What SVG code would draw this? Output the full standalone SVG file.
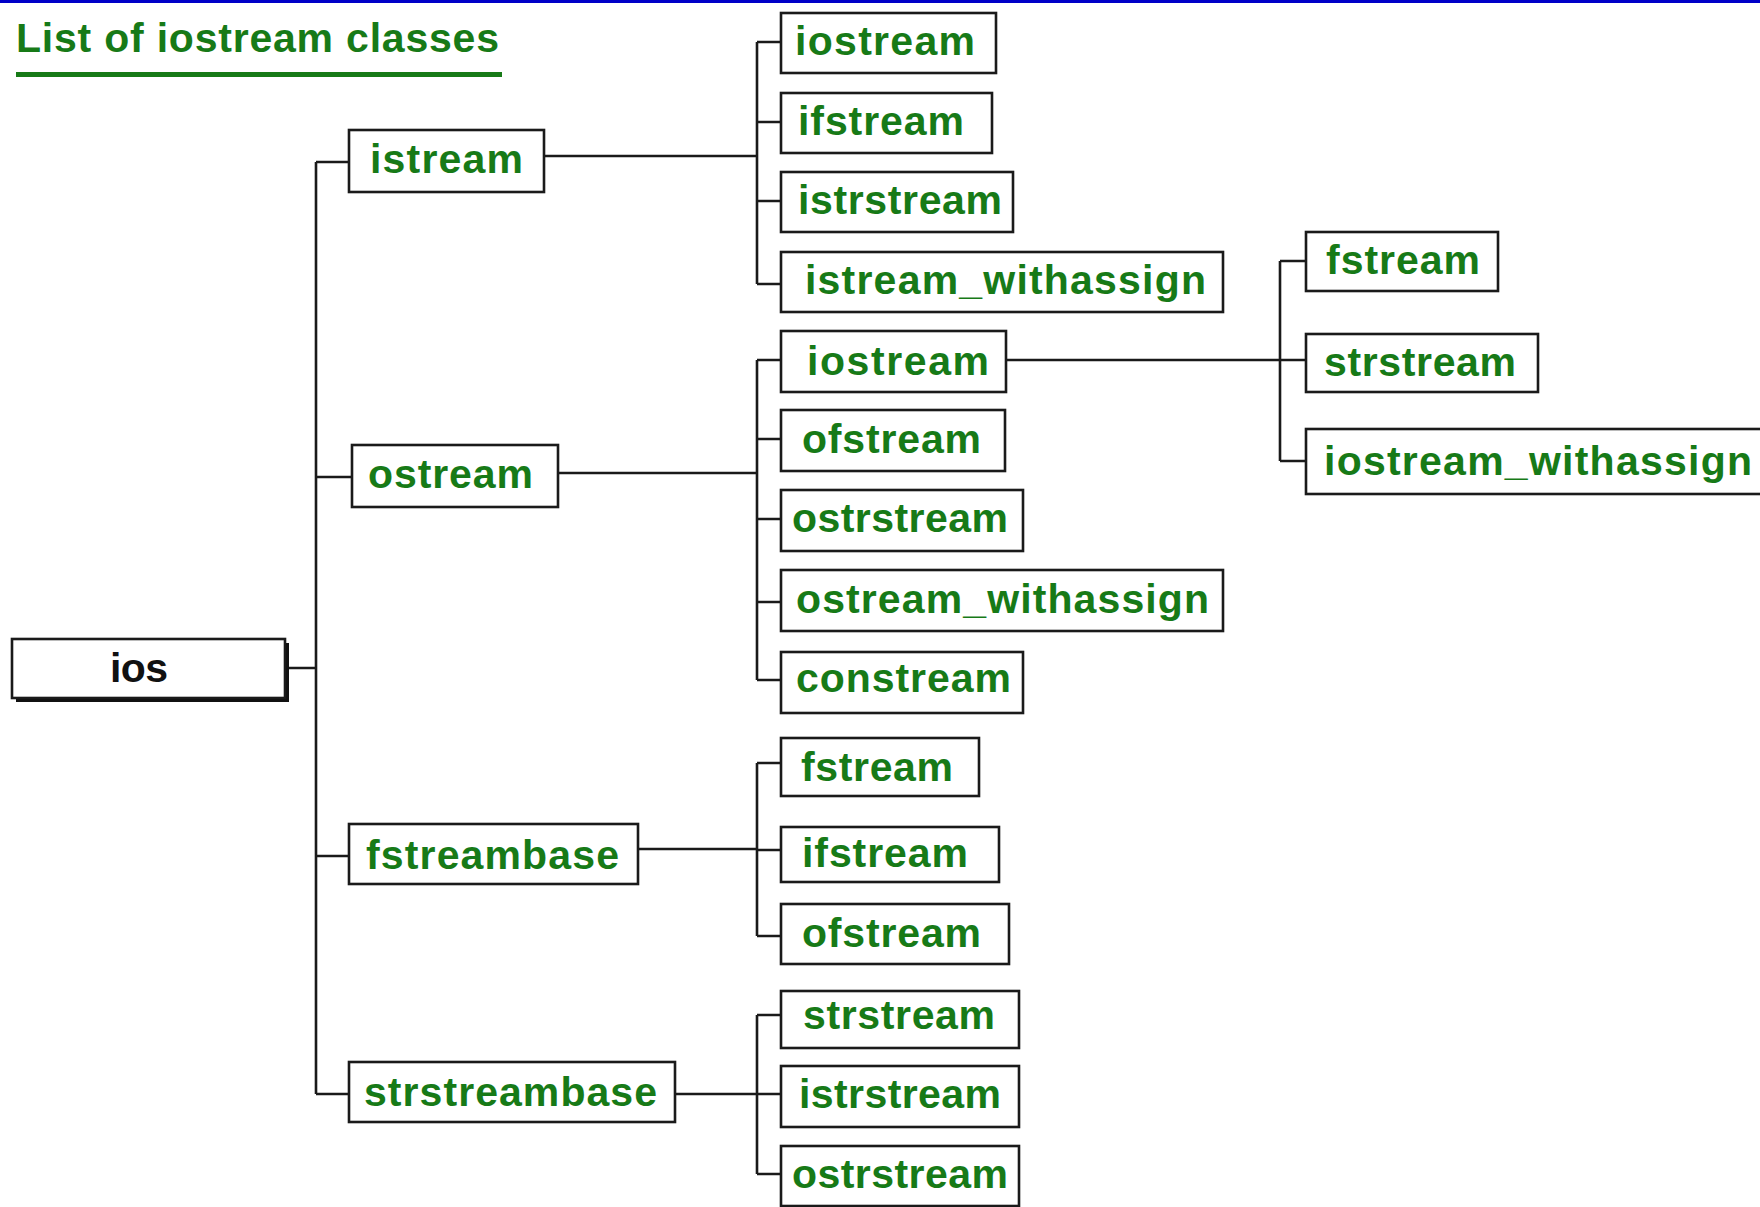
<svg xmlns="http://www.w3.org/2000/svg" width="1760" height="1207" viewBox="0 0 1760 1207">
<style>
.bx{fill:#fff;stroke:#1a1a1a;stroke-width:2.6}
.lb{font-family:"Liberation Sans",Arial,sans-serif;font-weight:bold;font-size:41px;fill:#177a17}
.ios{font-family:"Liberation Sans",Arial,sans-serif;font-weight:bold;font-size:41px;fill:#111}
.cn{fill:none;stroke:#1a1a1a;stroke-width:2.6}
</style>
<rect width="1760" height="1207" fill="#fff"/>
<rect x="0" y="0" width="1760" height="3" fill="#0000c8"/>
<g id="title">
<text x="16" y="52" class="lb" textLength="483">List of iostream classes</text>
<rect x="16" y="72" width="486" height="5" fill="#177a17"/>
</g>
<g id="connectors">
<path class="cn" d="M286 668H316M316 162V1094M316 162H349M316 477H352M316 856H349M316 1094H349"/>
<path class="cn" d="M544 156H757M757 42V284M757 42H781M757 122H781M757 201H781M757 284H781"/>
<path class="cn" d="M558 473H757M757 360V680M757 360H781M757 439H781M757 519H781M757 602H781M757 680H781"/>
<path class="cn" d="M1006 360H1280M1280 261V461M1280 261H1306M1280 360H1306M1280 461H1306"/>
<path class="cn" d="M638 849H757M757 763V936M757 763H781M757 850H781M757 936H781"/>
<path class="cn" d="M675 1094H757M757 1015V1174M757 1015H781M757 1094H781M757 1174H781"/>
</g>
<g id="ios">
<rect x="16" y="643" width="273" height="59" fill="#111"/>
<rect class="bx" x="12" y="639" width="273" height="59"/>
<text x="110" y="682" class="ios" textLength="58">ios</text>
</g>
<g id="istream"><rect class="bx" x="349" y="130" width="195" height="62"/><text x="370" y="173" class="lb" textLength="153">istream</text></g>
<g id="ostream"><rect class="bx" x="352" y="445" width="206" height="62"/><text x="368" y="488" class="lb" textLength="165">ostream</text></g>
<g id="fstreambase"><rect class="bx" x="349" y="824" width="289" height="60"/><text x="366" y="869" class="lb" textLength="253">fstreambase</text></g>
<g id="strstreambase"><rect class="bx" x="349" y="1062" width="326" height="60"/><text x="364" y="1106" class="lb" textLength="293">strstreambase</text></g>
<g id="istream-iostream"><rect class="bx" x="781" y="13" width="215" height="60"/><text x="795" y="55" class="lb" textLength="180">iostream</text></g>
<g id="istream-ifstream"><rect class="bx" x="781" y="93" width="211" height="60"/><text x="798" y="135" class="lb" textLength="166">ifstream</text></g>
<g id="istream-istrstream"><rect class="bx" x="781" y="172" width="232" height="60"/><text x="798" y="214" class="lb" textLength="204">istrstream</text></g>
<g id="istream_withassign"><rect class="bx" x="781" y="252" width="442" height="60"/><text x="805" y="294" class="lb" textLength="401">istream_withassign</text></g>
<g id="ostream-iostream"><rect class="bx" x="781" y="331" width="225" height="61"/><text x="807" y="375" class="lb" textLength="182">iostream</text></g>
<g id="ostream-ofstream"><rect class="bx" x="781" y="410" width="224" height="61"/><text x="802" y="453" class="lb" textLength="179">ofstream</text></g>
<g id="ostream-ostrstream"><rect class="bx" x="781" y="490" width="242" height="61"/><text x="792" y="532" class="lb" textLength="216">ostrstream</text></g>
<g id="ostream_withassign"><rect class="bx" x="781" y="570" width="442" height="61"/><text x="796" y="613" class="lb" textLength="413">ostream_withassign</text></g>
<g id="constream"><rect class="bx" x="781" y="652" width="242" height="61"/><text x="796" y="692" class="lb" textLength="215">constream</text></g>
<g id="iostream-fstream"><rect class="bx" x="1306" y="232" width="192" height="59"/><text x="1326" y="274" class="lb" textLength="154">fstream</text></g>
<g id="iostream-strstream"><rect class="bx" x="1306" y="334" width="232" height="58"/><text x="1324" y="376" class="lb" textLength="192">strstream</text></g>
<g id="iostream_withassign"><rect class="bx" x="1306" y="429" width="470" height="65"/><text x="1324" y="475" class="lb" textLength="428">iostream_withassign</text></g>
<g id="fstreambase-fstream"><rect class="bx" x="781" y="738" width="198" height="58"/><text x="801" y="781" class="lb" textLength="152">fstream</text></g>
<g id="fstreambase-ifstream"><rect class="bx" x="781" y="827" width="218" height="55"/><text x="802" y="867" class="lb" textLength="166">ifstream</text></g>
<g id="fstreambase-ofstream"><rect class="bx" x="781" y="904" width="228" height="60"/><text x="802" y="947" class="lb" textLength="179">ofstream</text></g>
<g id="strstreambase-strstream"><rect class="bx" x="781" y="991" width="238" height="57"/><text x="803" y="1029" class="lb" textLength="192">strstream</text></g>
<g id="strstreambase-istrstream"><rect class="bx" x="781" y="1066" width="238" height="61"/><text x="799" y="1108" class="lb" textLength="202">istrstream</text></g>
<g id="strstreambase-ostrstream"><rect class="bx" x="781" y="1146" width="238" height="60"/><text x="792" y="1188" class="lb" textLength="216">ostrstream</text></g>
</svg>
